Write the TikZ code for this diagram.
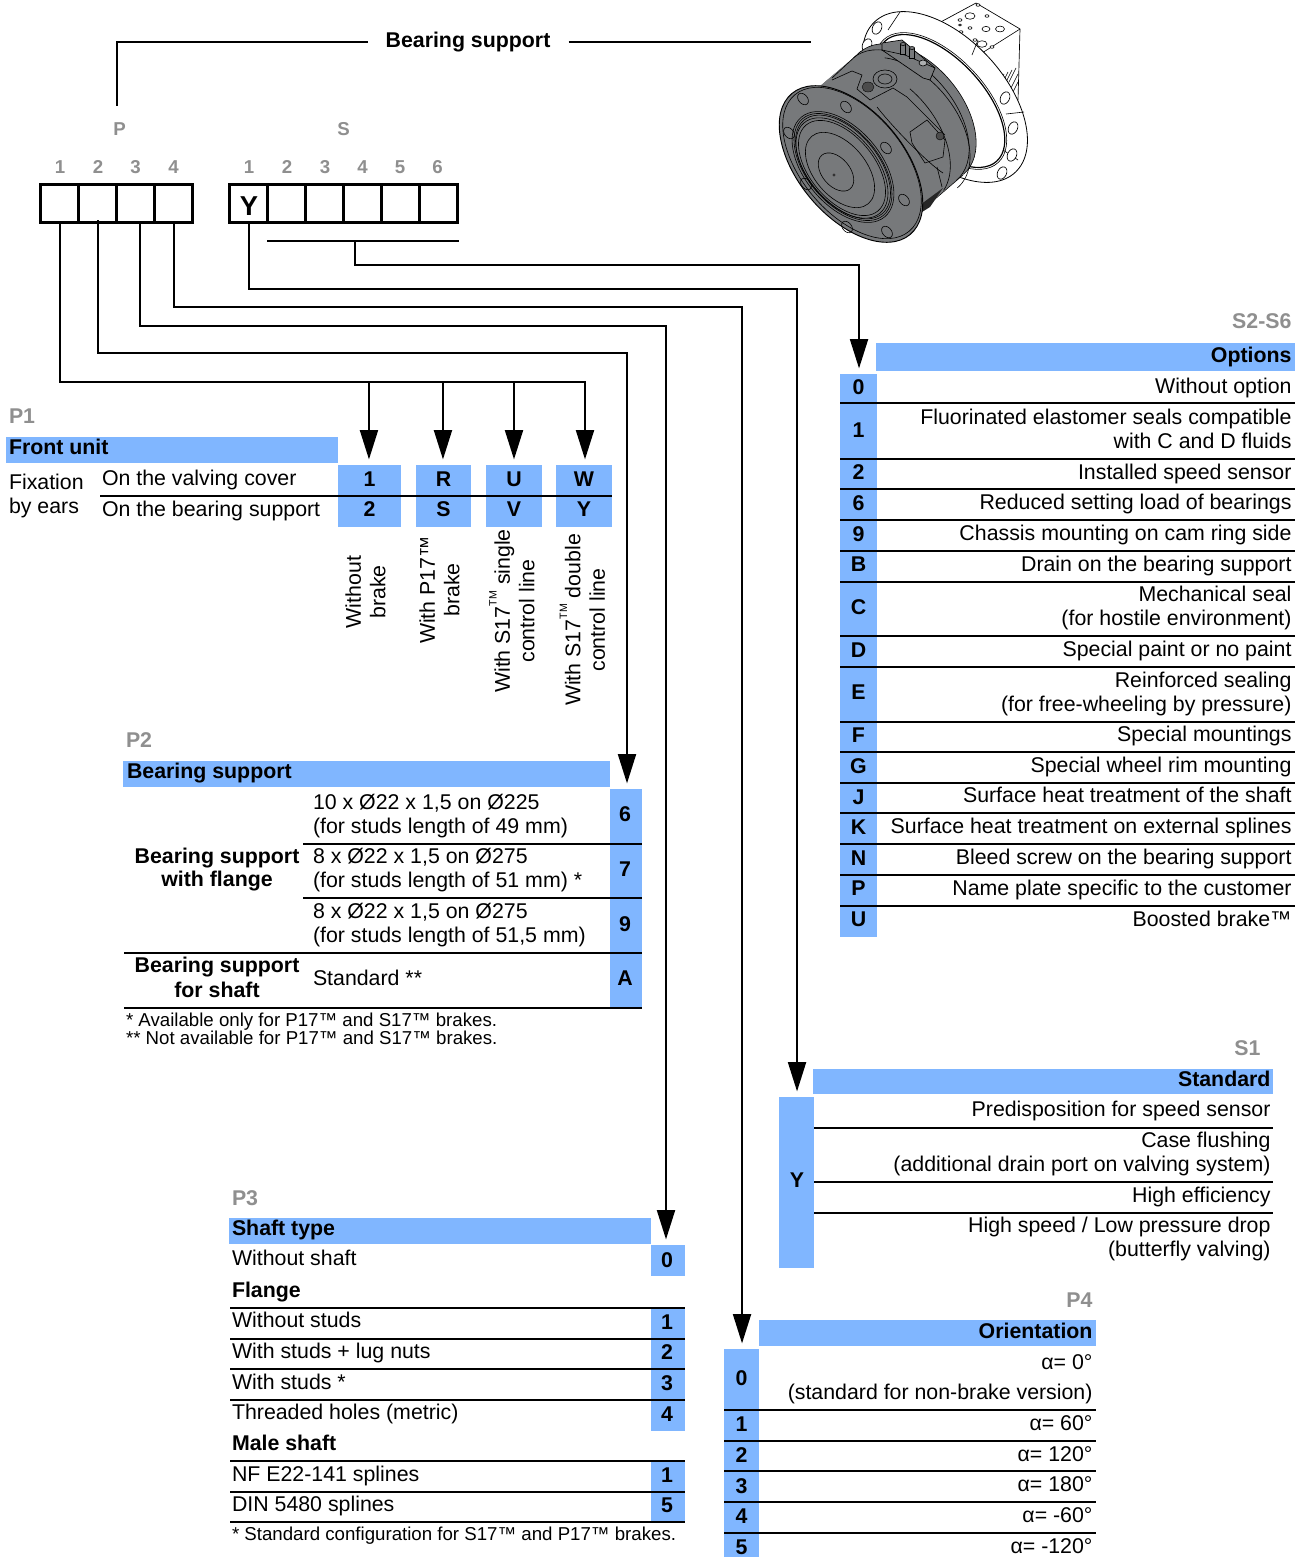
\documentclass[tikz,border=0pt]{standalone}
\usepackage{fontspec}
\setmainfont{Liberation Sans}
\usetikzlibrary{arrows.meta,calc}
\definecolor{cellblue}{HTML}{80B6FF}
\definecolor{lblgray}{HTML}{8F8F8F}
\definecolor{motorgray}{HTML}{77797B}
\newcounter{tn}
\newcommand\nf{\fontsize{16}{18.4}\selectfont}
\newcommand\smlf{\fontsize{14}{14}\selectfont\bfseries}
\newcommand\txL[3]{\stepcounter{tn}\node[txt,anchor=base west] (t\arabic{tn}) at (#1,#2) {#3};}
\newcommand\txR[3]{\stepcounter{tn}\node[txt,anchor=base east] (t\arabic{tn}) at (#1,#2) {#3};}
\newcommand\txB[3]{\stepcounter{tn}\node[txt,anchor=base] (t\arabic{tn}) at (#1,#2) {#3};}
\newcommand\hdr[4]{\stepcounter{tn}\node[fill=cellblue,inner sep=0pt,minimum width=#3*0.75pt-#1*0.75pt,minimum height=#4*0.75pt-#2*0.75pt] (t\arabic{tn}) at ({(#1+#3)/2},{(#2+#4)/2}) {};}
\def\lshx{0}\def\lshy{0}
% name x1 y1 x2 y2 letter baseline
\newcommand\cbox[7]{\node[fill=cellblue,inner sep=0pt,minimum width=#4*0.75pt-#2*0.75pt,minimum height=#5*0.75pt-#3*0.75pt] (#1) at ({(#2+#4)/2},{(#3+#5)/2}) {};
  \node[txt,anchor=base,font=\nf\bfseries] (#1-l) at ({(#2+#4)/2+\lshx},{#7+\lshy}) {#6};}
\newcommand\hsep[3]{\draw[rule] (#1,#3) -- (#2,#3);}
\newcommand\tmup{\raisebox{0.62em}{\fontsize{8}{8}\selectfont TM}}
\tikzset{
  txt/.style={inner sep=0pt,outer sep=0pt,font=\nf},
  rule/.style={line width=1.5pt,black},
  conn/.style={line width=1.5pt,black},
  arr/.style={conn,-{Triangle[length=22pt,width=13.5pt]},shorten >=4pt},
  slotbox/.style={draw=black,line width=2.25pt,inner sep=0pt,minimum width=28.5pt,minimum height=28.5pt},
  mline/.style={line width=0.45pt,black},
  motor/.style={fill=motorgray,draw=black,line width=0.5pt},
  hole/.style={fill=white,draw=black,line width=0.5pt},
}
\begin{document}
\begin{tikzpicture}[x=0.75pt,y=-0.75pt]
\useasboundingbox (0,0) rectangle (1302,1557);
\fill[white] (0,0) rectangle (1302,1557);

%----------- motor
\begin{scope}
% valving block
\fill[white,draw=black,line width=.5pt] (937,24) -- (976,3) -- (1020,29) -- (1018,100) -- (985,100) -- (960,70) -- cycle;
\draw[mline] (937,24) -- (982,53) -- (1020,29);
\draw[mline] (982,53) -- (985,70);
\foreach \a/\b in {996/78,1000/76,1004/74,1008/72,1012/70,1016/68,1018/74,1018/82}{\draw[mline] (\a,\b) -- (\a-7,\b+14);}
\foreach \a/\b/\r in {970/16/5,978/5/2,960/20/2,987/16/2,986/29/4,960/25/1.5,961/32/2,970/28/2,1000/29/4.5,982/44/5,992/47/2,975/40/2,982/53/2}{
  \draw[mline,fill=white] (\a,\b) ellipse [x radius=\r,y radius=\r*0.65];}
% back flange
\fill[white,draw=black,line width=.6pt,shift={(945,97)},rotate=-47] (0,0) ellipse [x radius=103,y radius=59];
\draw[mline,shift={(941,101)},rotate=-47] (0,0) ellipse [x radius=84,y radius=44];
\draw[line width=.9pt,shift={(941,101)},rotate=-47] (0,0) ellipse [x radius=82,y radius=42];
\draw[mline] (900,12) -- (888,30);
\draw[mline] (978,40) -- (972,55);
\draw[mline] (1024,112) -- (1006,114);
\draw[mline] (1018,160) -- (1003,150);
\foreach \a/\b in {867/45,877/28,1005/98,1013/128,1012/155,1002/173}{
  \draw[hole,shift={(\a,\b)},rotate=-25] (0,0) ellipse [x radius=4.5,y radius=6.5];}
% body
\foreach \t in {0,0.04,...,1.01}{
  \fill[motorgray,shift={($(860,157)!\t!(912,113)$)},rotate=-50] (0,0) ellipse [x radius=80,y radius=50];}
\draw[mline,shift={(912,113)},rotate=-50] (-80,0) arc [start angle=180,end angle=360,x radius=80,y radius=50];
\draw[mline,shift={(905,119)},rotate=-50] (-80,0) arc [start angle=180,end angle=360,x radius=80,y radius=50];
\draw[mline,shift={(898,125)},rotate=-50] (-60,-33) arc [start angle=214,end angle=360,x radius=80,y radius=50];
\draw[mline,shift={(886,135)},rotate=-50] (-20,-48) arc [start angle=255,end angle=350,x radius=80,y radius=50];
\draw[mline] (861,51) -- (832,78);
\draw[mline] (963,175) -- (920,212);
% pad on top
\fill[motorgray,draw=black,line width=.5pt] (882,43) -- (902,40) -- (935,68) -- (930,80) -- (923,78) -- (882,50) -- cycle;
\draw[mline] (882,50) -- (905,55) -- (935,68);
\draw[mline,fill=white!40!motorgray] (923,63) ellipse [x radius=4,y radius=3];
\foreach \a/\b in {903/50,912/54}{\fill[motorgray,draw=black,line width=.4pt] (\a-2.5,\b-6) rectangle (\a+2.5,\b+4);\draw[mline,fill=motorgray] (\a,\b-6) ellipse [x radius=2.5,y radius=1.5];}
% ports
\draw[mline,fill=motorgray] (885,79) ellipse [x radius=12,y radius=9];
\draw[mline,fill=motorgray] (885,79) ellipse [x radius=7,y radius=5];
\draw[fill=black!70,line width=.3pt] (868,87) ellipse [x radius=6,y radius=5];
\draw[mline] (832,80) -- (852,71) -- (862,75) -- (857,89) -- (870,100) -- (893,88) -- (907,97) -- (945,135);
\draw[mline] (877,107) .. controls (895,130) and (930,165) .. (943,173);
% bulge
\draw[mline] (910,132) -- (927,120) -- (945,140) -- (943,157) -- (925,163) -- (912,143) -- cycle;
\draw[fill=black!70,line width=.3pt] (940,136) circle [radius=4];
% lower detail
\draw[mline] (937,167) -- (942,187);
\fill[black!85] (920,205) -- (943,188) -- (930,207) -- (922,212) -- cycle;
% front disk
\draw[motor,line width=.7pt,shift={(851,164)},rotate=-50] (0,0) ellipse [x radius=92,y radius=53];
\draw[mline,shift={(852,163)},rotate=-50] (0,0) ellipse [x radius=89,y radius=51];
\foreach \a/\b in {803/99,789/133,806/184,847/227,887/232,904/200,886/148,846/107}{
  \draw[mline,shift={(\a,\b)},rotate=-50] (0,0) ellipse [x radius=6.5,y radius=4.5];}
\foreach \ra/\rb/\cx/\cy in {65/38/843/167,63/36/843/167,61/35/843/167,59/34/842/168,56/32/842/168,44/26/840/170}{
  \draw[mline,shift={(\cx,\cy)},rotate=-50] (0,0) ellipse [x radius=\ra,y radius=\rb];}
\draw[mline,shift={(836,172)},rotate=-50] (0,0) ellipse [x radius=22,y radius=14];
\fill[black!80,shift={(834,175)}] (0,0) circle [radius=1.6];
\end{scope}

%----------- P1 table
\txL{9}{423}{\bfseries\color{lblgray}P1}
\hdr{6}{437}{338}{463}
\txL{9}{454}{\bfseries Front unit}
\cbox{c1}{338}{465}{401}{496}{1}{486}
\cbox{c2}{338}{496}{401}{527}{2}{516}
\cbox{cR}{416}{465}{471}{496}{R}{486}
\cbox{cS}{416}{496}{471}{527}{S}{516}
\cbox{cU}{486}{465}{542}{496}{U}{486}
\cbox{cV}{486}{496}{542}{527}{V}{516}
\cbox{cW}{556}{465}{612}{496}{W}{486}
\cbox{cY}{556}{496}{612}{527}{Y}{516}
\hsep{100}{612}{496}
\txL{9}{489}{Fixation}
\txL{9}{513}{by ears}
\txL{102}{485}{On the valving cover}
\txL{102}{516}{On the bearing support}
\node[txt,rotate=90,align=center] (rot1) at (365.5,592) {Without\\brake};
\node[txt,rotate=90,align=center] (rot2) at (439.5,590) {With P17™\\brake};
\node[txt,rotate=90,align=center] (rot3) at (512,611) {With S17\tmup{} single\\control line};
\node[txt,rotate=90,align=center] (rot4) at (582.5,620) {With S17\tmup{} double\\control line};

%----------- P2 table
\txL{126}{747}{\bfseries\color{lblgray}P2}
\hdr{123}{761}{610}{787}
\txL{127}{778}{\bfseries Bearing support}
\def\lshx{-1}
\cbox{d6}{610}{789}{642}{844}{6}{821}
\cbox{d7}{610}{844}{642}{898}{7}{876}
\cbox{d9}{610}{898}{642}{953}{9}{931}
\cbox{dA}{610}{953}{642}{1008}{A}{985.5}
\def\lshx{0}
\hsep{303}{642}{844}
\hsep{303}{642}{898}
\hsep{124}{642}{953}
\hsep{124}{642}{1008}
\txL{313}{809}{10 x Ø22 x 1,5 on Ø225}
\txL{313}{833}{(for studs length of 49 mm)}
\txL{313}{863}{8 x Ø22 x 1,5 on Ø275}
\txL{313}{887}{(for studs length of 51 mm) *}
\txL{313}{918}{8 x Ø22 x 1,5 on Ø275}
\txL{313}{942}{(for studs length of 51,5 mm)}
\txL{313}{985.5}{Standard **}
\txB{217}{863}{\bfseries Bearing support}
\txB{217}{886.5}{\bfseries with flange}
\txB{217}{972.5}{\bfseries Bearing support}
\txB{217}{997}{\bfseries for shaft}
\txL{126}{1026}{\fontsize{14}{14}\selectfont * Available only for P17™ and S17™ brakes.}
\txL{126}{1044}{\fontsize{14}{14}\selectfont ** Not available for P17™ and S17™ brakes.}

%----------- P3 table
\txL{232}{1205}{\bfseries\color{lblgray}P3}
\hdr{229}{1218}{651}{1244}
\txL{232}{1235}{\bfseries Shaft type}
\def\lshx{-1}
\cbox{e0}{651}{1245}{685}{1276}{0}{1267}
\cbox{e1}{651}{1308}{685}{1339}{1}{1329}
\cbox{e2}{651}{1339}{685}{1369}{2}{1359}
\cbox{e3}{651}{1369}{685}{1400}{3}{1390}
\cbox{e4}{651}{1400}{685}{1431}{4}{1421}
\cbox{e5}{651}{1461}{685}{1492}{1}{1482}
\cbox{e6}{651}{1492}{685}{1522}{5}{1512}
\def\lshx{0}
\txL{232}{1265}{Without shaft}
\txL{232}{1297}{\bfseries Flange}
\hsep{230}{685}{1308}
\hsep{230}{685}{1339}
\hsep{230}{685}{1369}
\hsep{230}{685}{1400}
\txL{232}{1327}{Without studs}
\txL{232}{1358}{With studs + lug nuts}
\txL{232}{1389}{With studs *}
\txL{232}{1419}{Threaded holes (metric)}
\txL{232}{1450}{\bfseries Male shaft}
\hsep{230}{685}{1461}
\hsep{230}{685}{1492}
\hsep{230}{685}{1522}
\txL{232}{1481}{NF E22-141 splines}
\txL{232}{1511}{DIN 5480 splines}
\txL{232}{1540}{\fontsize{14}{14}\selectfont * Standard configuration for S17™ and P17™ brakes.}

%----------- P4 table
\txR{1092.5}{1307}{\bfseries\color{lblgray}P4}
\hdr{759}{1320}{1096}{1346}
\txR{1092.5}{1338}{\bfseries Orientation}
\cbox{f0}{724}{1349}{759}{1410}{0}{1385}
\cbox{f1}{724}{1410}{759}{1441}{1}{1431}
\cbox{f2}{724}{1441}{759}{1471}{2}{1462}
\cbox{f3}{724}{1471}{759}{1502}{3}{1493}
\cbox{f4}{724}{1502}{759}{1533}{4}{1523}
\cbox{f5}{724}{1533}{759}{1557}{5}{1554}
\hsep{724}{1096}{1410}
\hsep{724}{1096}{1441}
\hsep{724}{1096}{1471}
\hsep{724}{1096}{1502}
\hsep{724}{1096}{1533}
\txR{1092.5}{1369}{α= 0°}
\txR{1092.5}{1399}{(standard for non-brake version)}
\txR{1092.5}{1430}{α= 60°}
\txR{1092.5}{1461}{α= 120°}
\txR{1092.5}{1491}{α= 180°}
\txR{1092.5}{1522}{α= -60°}
\txR{1092.5}{1553}{α= -120°}

%----------- S1 table
\txR{1260.5}{1055}{\bfseries\color{lblgray}S1}
\hdr{813}{1069}{1273}{1094}
\txR{1270.5}{1086}{\bfseries Standard}
\def\lshx{0.5}
\cbox{g0}{779}{1097}{814}{1268}{Y}{1187}
\def\lshx{0}
\hsep{814}{1273}{1127.5}
\hsep{814}{1273}{1182}
\hsep{814}{1273}{1212.5}
\txR{1270.5}{1116}{Predisposition for speed sensor}
\txR{1270.5}{1147}{Case flushing}
\txR{1270.5}{1171}{(additional drain port on valving system)}
\txR{1270.5}{1202}{High efficiency}
\txR{1270.5}{1232}{High speed / Low pressure drop}
\txR{1270.5}{1256}{(butterfly valving)}

%----------- S2-S6 table
\txR{1291.5}{328.5}{\bfseries\color{lblgray}S2-S6}
\hdr{876}{343}{1295}{371}
\txR{1291.5}{362}{\bfseries Options}
\def\lshy{1}
\cbox{h0}{840}{374}{877}{403.3}{0}{393}
\cbox{h1}{840}{403.3}{877}{458.7}{1}{436}
\cbox{h2}{840}{458.7}{877}{489.3}{2}{478}
\cbox{h6}{840}{489.3}{877}{520}{6}{509}
\cbox{h9}{840}{520}{877}{550.7}{9}{540.7}
\cbox{hB}{840}{550.7}{877}{581.7}{B}{570}
\cbox{hC}{840}{581.7}{877}{635.7}{C}{613}
\cbox{hD}{840}{635.7}{877}{666.7}{D}{656.7}
\cbox{hE}{840}{666.7}{877}{721.7}{E}{698}
\cbox{hF}{840}{721.7}{877}{751.7}{F}{741.7}
\cbox{hG}{840}{751.7}{877}{782.7}{G}{772.7}
\cbox{hJ}{840}{782.7}{877}{813}{J}{803}
\cbox{hK}{840}{813}{877}{844.3}{K}{833}
\cbox{hN}{840}{844.3}{877}{874.7}{N}{864}
\cbox{hP}{840}{874.7}{877}{905.7}{P}{894}
\cbox{hU}{840}{905.7}{877}{936.7}{U}{925}
\def\lshy{0}
\foreach \yy in {403.3,458.7,489.3,520,550.7,581.7,635.7,666.7,721.7,751.7,782.7,813,844.3,874.7,905.7}{\hsep{840}{1295}{\yy}}
\txR{1291.5}{393}{Without option}
\txR{1291.5}{424}{Fluorinated elastomer seals compatible}
\txR{1291.5}{448.3}{with C and D fluids}
\txR{1291.5}{479.3}{Installed speed sensor}
\txR{1291.5}{509.3}{Reduced setting load of bearings}
\txR{1291.5}{540.7}{Chassis mounting on cam ring side}
\txR{1291.5}{571.7}{Drain on the bearing support}
\txR{1291.5}{601}{Mechanical seal}
\txR{1291.5}{625}{(for hostile environment)}
\txR{1291.5}{656}{Special paint or no paint}
\txR{1291.5}{687.3}{Reinforced sealing}
\txR{1291.5}{711.3}{(for free-wheeling by pressure)}
\txR{1291.5}{741}{Special mountings}
\txR{1291.5}{772.3}{Special wheel rim mounting}
\txR{1291.5}{802.7}{Surface heat treatment of the shaft}
\txR{1291.5}{833.3}{Surface heat treatment on external splines}
\txR{1291.5}{864.3}{Bleed screw on the bearing support}
\txR{1291.5}{895}{Name plate specific to the customer}
\txR{1291.5}{926}{Boosted brake™}

%----------- code boxes
\foreach \n/\cx in {P1/59,P2/97,P3/135.5,P4/173.5,S1/248,S2/286,S3/324,S4/362,S5/400,S6/438.5}{
  \node[slotbox] (slot\n) at (\cx,203) {};
}
\foreach \n/\cx/\lab in {P1/60/1,P2/98/2,P3/135.5/3,P4/173.5/4,S1/249/1,S2/287/2,S3/325/3,S4/362.5/4,S5/400/5,S6/437.5/6}{
  \node[txt,anchor=base,font=\smlf,text=lblgray] (num\n) at (\cx,173) {\lab};
}
\node[txt,anchor=base,font=\smlf,text=lblgray] (grpP) at (119.5,135.5) {P};
\node[txt,anchor=base,font=\smlf,text=lblgray] (grpS) at (343.5,135.5) {S};
\node[txt,anchor=base,font=\fontsize{20.5}{20.5}\selectfont\bfseries] (slotY) at (249,215) {Y};

%----------- title
\node[txt,font=\nf\bfseries,minimum width=150.75pt] (title) at (468,42) {Bearing support};
\coordinate (pgrp) at (117,105.5);
\coordinate (sgrp) at (811,42);
\draw[conn] (pgrp) |- (title.west |- sgrp);
\draw[conn] (title.east |- sgrp) -- (sgrp);

%----------- connectors
\coordinate (lvlA) at (0,381.5);
\coordinate (lvlB) at (0,352.5);
\coordinate (lvlC) at (0,326);
\coordinate (lvlD) at (0,307);
\coordinate (lvlE) at (0,289);
\coordinate (lvlF) at (0,265);
\coordinate (busL) at (267,241);
\coordinate (busM) at (355,241);
\coordinate (busR) at (459,241);
\coordinate (outP1) at ([xshift=0.75pt]slotP1.south);
\coordinate (outP2) at ([xshift=0.75pt,yshift=2.5pt]slotP2.south);
\coordinate (outP3) at ([xshift=3.4pt,yshift=1.5pt]slotP3.south);
\coordinate (outP4) at ([xshift=0.4pt]slotP4.south);
\coordinate (outS1) at ([xshift=0.75pt]slotS1.south);
\coordinate (in1) at ([xshift=-0.4pt]c1.north);
\coordinate (inR) at ([xshift=-0.4pt]cR.north);
\coordinate (inW) at ([xshift=0.75pt]cW.north);
\coordinate (inD) at ([xshift=0.75pt]d6.north);
\coordinate (inE) at ([xshift=-1.5pt]e0.north);
\coordinate (inF) at ([xshift=0.4pt]f0.north);
\coordinate (inG) at ([xshift=0.4pt]g0.north);
\coordinate (inH) at ([xshift=0.4pt]h0.north);
\draw[arr] (outP1) |- (lvlA -| inW) -- (inW);
\draw[arr] (in1 |- lvlA) -- (in1);
\draw[arr] (inR |- lvlA) -- (inR);
\draw[arr] (cU.north |- lvlA) -- (cU.north);
\draw[arr] (outP2) |- (lvlB -| inD) -- (inD);
\draw[arr] (outP3) |- (lvlC -| inE) -- (inE);
\draw[arr] (outP4) |- (lvlD -| inF) -- (inF);
\draw[arr] (outS1) |- (lvlE -| inG) -- (inG);
\draw[conn] (busL) -- (busR);
\draw[arr] (busM) |- (lvlF -| inH) -- (inH);
\end{tikzpicture}
\end{document}
